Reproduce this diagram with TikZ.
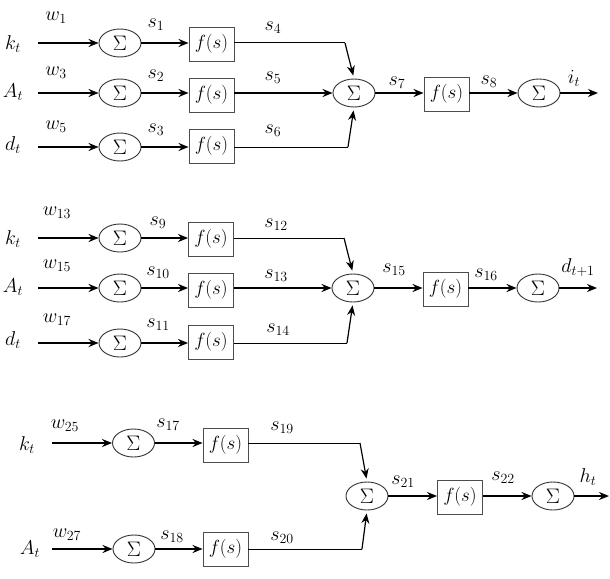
\RequirePackage{fix-cm}
\documentclass[tikz,border=0pt]{standalone}
\usetikzlibrary{shapes.geometric,arrows.meta}
\begin{document}
\begin{tikzpicture}[x=1pt,y=-1pt,
  sumnode/.style={ellipse,draw=black!80,line width=0.9pt,minimum width=42pt,minimum height=28pt,inner sep=0pt,font=\fontsize{21}{22}\selectfont},
  fbox/.style={rectangle,draw=black!70,line width=0.9pt,minimum width=45pt,minimum height=34pt,inner sep=0pt,font=\fontsize{19}{20}\selectfont},
  lbl/.style={inner sep=0pt,font=\fontsize{20}{22}\selectfont},
  arr/.style={line width=1.7pt,-{Stealth[length=10pt,width=8pt]}},
  thin/.style={line width=1pt},
  tharr/.style={line width=1.2pt,-{Stealth[length=10pt,width=8pt]},shorten >=3pt}
]
\useasboundingbox (0,0) rectangle (610,578);
\newcommand{\SUM}{$\Sigma$}
\newcommand{\FS}{$f(s)$}

% ===== Top block =====
\node[lbl] (k1) at (13,44) {$k_t$};
\node[lbl] (a1) at (13,92) {$A_t$};
\node[lbl] (d1) at (13,145) {$d_t$};
\coordinate (i11) at (38,43);
\coordinate (i12) at (38,93);
\coordinate (i13) at (38,147);
\node[sumnode] (sa11) at (120,43) {\SUM};
\node[sumnode] (sa12) at (120,93) {\SUM};
\node[sumnode] (sa13) at (120,147) {\SUM};
\node[fbox] (fa11) at (211.5,44) {\FS};
\node[fbox] (fa12) at (211.5,95) {\FS};
\node[fbox] (fa13) at (211.5,146) {\FS};
\node[sumnode] (sc1) at (354,93) {\SUM};
\node[fbox] (fc1) at (446.5,94) {\FS};
\node[sumnode] (so1) at (539,93) {\SUM};
\coordinate (o1) at (598,93);
\coordinate (t1) at (345,43);
\coordinate (b1) at (348,147);
\draw[arr] (i11) -- (sa11);
\draw[arr] (i12) -- (sa12);
\draw[arr] (i13) -- (sa13);
\draw[arr] (sa11) -- (fa11.west |- sa11);
\draw[arr] (sa12) -- (fa12.west |- sa12);
\draw[arr] (sa13) -- (fa13.west |- sa13);
\draw[thin] (fa11.east |- t1) -- (t1);
\draw[tharr] (t1) -- (sc1.north);
\draw[arr] (fa12.east |- sc1) -- (sc1);
\draw[thin] (fa13.east |- b1) -- (b1);
\draw[tharr] (b1) -- (sc1.south);
\draw[arr] (sc1) -- (fc1.west |- sc1);
\draw[arr] (fc1.east |- so1) -- (so1);
\draw[arr] (so1) -- (o1);
\node[lbl] at (56,18) {$w_1$};
\node[lbl] at (56,73) {$w_3$};
\node[lbl] at (56,127) {$w_5$};
\node[lbl] at (156,25) {$s_1$};
\node[lbl] at (156,76) {$s_2$};
\node[lbl] at (156,130) {$s_3$};
\node[lbl] at (273,28) {$s_4$};
\node[lbl] at (273,78) {$s_5$};
\node[lbl] at (273,131) {$s_6$};
\node[lbl] at (397,83) {$s_7$};
\node[lbl] at (489,82) {$s_8$};
\node[lbl] at (574,78) {$i_t$};

% ===== Middle block =====
\node[lbl] (k2) at (13,239) {$k_t$};
\node[lbl] (a2) at (13,287) {$A_t$};
\node[lbl] (d2) at (13,340) {$d_t$};
\coordinate (i21) at (38,238);
\coordinate (i22) at (38,288);
\coordinate (i23) at (38,343);
\node[sumnode] (sa21) at (120,238) {\SUM};
\node[sumnode] (sa22) at (120,288) {\SUM};
\node[sumnode] (sa23) at (120,343) {\SUM};
\node[fbox] (fa21) at (211,239) {\FS};
\node[fbox] (fa22) at (211,290) {\FS};
\node[fbox] (fa23) at (211,342) {\FS};
\node[sumnode] (sc2) at (353,288) {\SUM};
\node[fbox] (fc2) at (445.5,289) {\FS};
\node[sumnode] (so2) at (538,288) {\SUM};
\coordinate (o2) at (597,288);
\coordinate (t2) at (344,238);
\coordinate (b2) at (347,343);
\draw[arr] (i21) -- (sa21);
\draw[arr] (i22) -- (sa22);
\draw[arr] (i23) -- (sa23);
\draw[arr] (sa21) -- (fa21.west |- sa21);
\draw[arr] (sa22) -- (fa22.west |- sa22);
\draw[arr] (sa23) -- (fa23.west |- sa23);
\draw[thin] (fa21.east |- t2) -- (t2);
\draw[tharr] (t2) -- (sc2.north);
\draw[arr] (fa22.east |- sc2) -- (sc2);
\draw[thin] (fa23.east |- b2) -- (b2);
\draw[tharr] (b2) -- (sc2.south);
\draw[arr] (sc2) -- (fc2.west |- sc2);
\draw[arr] (fc2.east |- so2) -- (so2);
\draw[arr] (so2) -- (o2);
\node[lbl] at (57,213) {$w_{13}$};
\node[lbl] at (57,266) {$w_{15}$};
\node[lbl] at (57,320) {$w_{17}$};
\node[lbl] at (158,223) {$s_9$};
\node[lbl] at (158,273) {$s_{10}$};
\node[lbl] at (158,325) {$s_{11}$};
\node[lbl] at (276,225) {$s_{12}$};
\node[lbl] at (276,276) {$s_{13}$};
\node[lbl] at (278,330) {$s_{14}$};
\node[lbl] at (394,270) {$s_{15}$};
\node[lbl] at (486,275) {$s_{16}$};
\node[lbl] at (578,268) {$d_{t+1}$};

% ===== Bottom block =====
\node[lbl] (k3) at (27,445) {$k_t$};
\node[lbl] (a3) at (30,549) {$A_t$};
\coordinate (i31) at (52,443);
\coordinate (i32) at (52,549);
\node[sumnode] (sa31) at (133.5,443) {\SUM};
\node[sumnode] (sa32) at (134,549) {\SUM};
\node[fbox] (fa31) at (225.5,445) {\FS};
\node[fbox] (fa32) at (225.5,549) {\FS};
\node[sumnode] (sc3) at (367,496) {\SUM};
\node[fbox] (fc3) at (460,497) {\FS};
\node[sumnode] (so3) at (553,496) {\SUM};
\coordinate (o3) at (609,496);
\coordinate (t3) at (360,443);
\coordinate (b3) at (362,549);
\draw[arr] (i31) -- (sa31);
\draw[arr] (i32) -- (sa32);
\draw[arr] (sa31) -- (fa31.west |- sa31);
\draw[arr] (sa32) -- (fa32.west |- sa32);
\draw[thin] (fa31.east |- t3) -- (t3);
\draw[tharr] (t3) -- (sc3.north);
\draw[thin] (fa32.east |- b3) -- (b3);
\draw[tharr] (b3) -- (sc3.south);
\draw[arr] (sc3) -- (fc3.west |- sc3);
\draw[arr] (fc3.east |- so3) -- (so3);
\draw[arr] (so3) -- (o3);
\node[lbl] at (65,426) {$w_{25}$};
\node[lbl] at (67,535) {$w_{27}$};
\node[lbl] at (168,425) {$s_{17}$};
\node[lbl] at (172,537) {$s_{18}$};
\node[lbl] at (282,428) {$s_{19}$};
\node[lbl] at (282,538) {$s_{20}$};
\node[lbl] at (403,482) {$s_{21}$};
\node[lbl] at (503,478) {$s_{22}$};
\node[lbl] at (588,477) {$h_t$};
\end{tikzpicture}
\end{document}
